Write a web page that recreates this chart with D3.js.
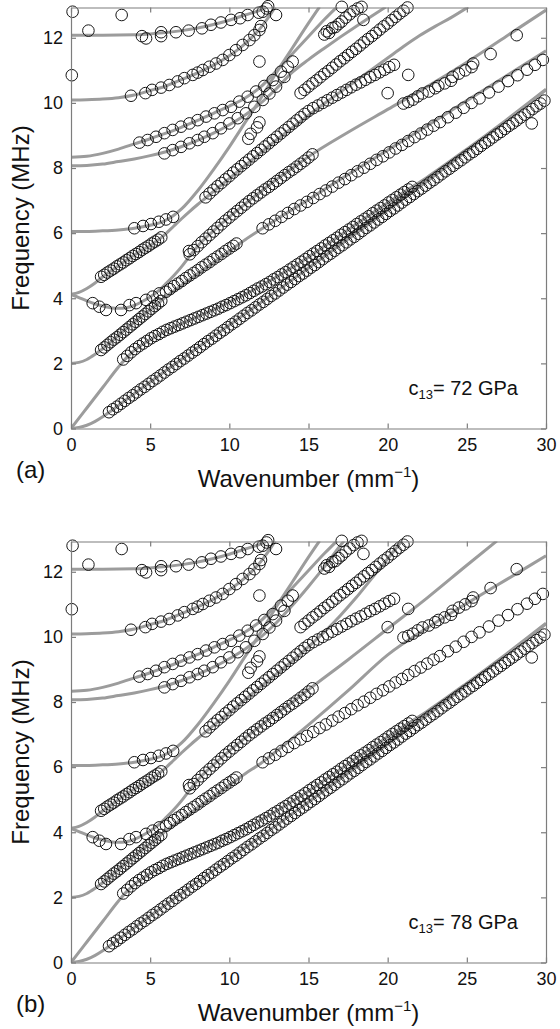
<!DOCTYPE html>
<html>
<head>
<meta charset="utf-8">
<script src="https://cdn.jsdelivr.net/npm/d3@7"></script>
<style>
  body { margin: 0; background: #fff; }
  text { font-family: "Liberation Sans", Arial, Helvetica, sans-serif; }
</style>
</head>
<body>
<svg id="chart" width="560" height="1029"></svg>
<script>
// axis ticks
const kTicks = [0, 5, 10, 15, 20, 25, 30];
const fTicks = [0, 2, 4, 6, 8, 10, 12];
const panelNames = ['(a)', '(b)'];
const c13Values = ['72', '78'];

// measured points (same in both panels) [wavenumber, frequency]
const rowA0 = [[2.4,0.5],[2.65,0.59],[2.9,0.67],[3.15,0.76],[3.4,0.85],[3.65,0.94],[3.9,1.02],[4.15,1.11],[4.4,1.2],[4.65,1.28],[4.9,1.37],[5.15,1.46],[5.4,1.54],[5.65,1.63],[5.9,1.72],[6.15,1.81],[6.4,1.89],[6.65,1.98],[6.9,2.07],[7.15,2.15],[7.4,2.24],[7.65,2.33],[7.9,2.41],[8.15,2.5],[8.4,2.59],[8.65,2.68],[8.9,2.76],[9.15,2.85],[9.4,2.94],[9.65,3.02],[9.9,3.11],[10.15,3.2],[10.4,3.28],[10.65,3.37],[10.9,3.46],[11.15,3.55],[11.4,3.63],[11.65,3.72],[11.9,3.81],[12.15,3.89],[12.4,3.98],[12.65,4.07],[12.9,4.15],[13.15,4.24],[13.4,4.33],[13.65,4.42],[13.9,4.5],[14.15,4.59],[14.4,4.68],[14.65,4.76],[14.9,4.85],[15.15,4.94],[15.4,5.02],[15.65,5.11],[15.9,5.2],[16.15,5.29],[16.4,5.37],[16.65,5.46],[16.9,5.55],[17.15,5.63],[17.4,5.72],[17.65,5.81],[17.9,5.89],[18.15,5.98],[18.4,6.07],[18.65,6.16],[18.9,6.24],[19.15,6.33],[19.4,6.42],[19.65,6.5],[19.9,6.59],[20.15,6.68],[20.4,6.76],[20.65,6.85],[20.9,6.94],[21.15,7.03],[21.4,7.11],[21.65,7.2],[21.9,7.29],[22.15,7.37],[22.4,7.46],[22.65,7.55],[22.9,7.63],[23.15,7.72],[23.4,7.81],[23.65,7.9],[23.9,7.98],[24.15,8.07],[24.4,8.16],[24.65,8.24],[24.9,8.33],[25.15,8.42],[25.4,8.5],[25.65,8.59],[25.9,8.68],[26.15,8.77],[26.4,8.85],[26.65,8.94],[26.9,9.03],[27.15,9.11],[27.4,9.2],[27.65,9.29],[27.9,9.37],[28.15,9.46],[28.4,9.55],[28.65,9.64],[28.9,9.72],[29.15,9.81],[29.4,9.9],[29.65,9.98],[29.9,10.07]];
const rowS0 = [[3.3,2.12],[3.55,2.23],[3.8,2.34],[4.05,2.44],[4.3,2.53],[4.55,2.61],[4.8,2.69],[5.05,2.77],[5.3,2.84],[5.55,2.9],[5.8,2.97],[6.05,3.03],[6.3,3.08],[6.55,3.13],[6.8,3.18],[7.05,3.23],[7.3,3.28],[7.55,3.33],[7.8,3.38],[8.05,3.43],[8.3,3.48],[8.55,3.53],[8.8,3.58],[9.05,3.63],[9.3,3.68],[9.55,3.74],[9.8,3.79],[10.05,3.85],[10.3,3.91],[10.55,3.97],[10.8,4.03],[11.05,4.09],[11.3,4.16],[11.55,4.23],[11.8,4.3],[12.05,4.36],[12.3,4.43],[12.55,4.5],[12.8,4.58],[13.05,4.65],[13.3,4.73],[13.55,4.8],[13.8,4.88],[14.05,4.96],[14.3,5.04],[14.55,5.12],[14.8,5.2],[15.05,5.29],[15.3,5.37],[15.55,5.45],[15.8,5.53],[16.05,5.62],[16.3,5.7],[16.55,5.78],[16.8,5.86],[17.05,5.95],[17.3,6.03],[17.55,6.11],[17.8,6.19],[18.05,6.28],[18.3,6.36],[18.55,6.44],[18.8,6.52],[19.05,6.61],[19.3,6.69],[19.55,6.77],[19.8,6.85],[20.05,6.94],[20.3,7.02],[20.55,7.1],[20.8,7.18],[21.05,7.26],[21.3,7.34],[21.55,7.42]];
const rowM2 = [[1.9,2.41],[2.1,2.49],[2.3,2.57],[2.5,2.65],[2.7,2.73],[2.9,2.8],[3.1,2.88],[3.3,2.96],[3.5,3.04],[3.7,3.12],[3.9,3.2],[4.1,3.28],[4.3,3.36],[4.5,3.44],[4.7,3.52],[4.9,3.6],[5.1,3.68],[5.3,3.76],[5.5,3.84],[5.7,3.92],[6.0,4.2],[6.25,4.28],[6.5,4.37],[6.75,4.45],[7.0,4.53],[7.25,4.62],[7.5,4.7],[7.75,4.78],[8.0,4.86],[8.25,4.95],[8.5,5.03],[8.75,5.11],[9.0,5.2],[9.25,5.28],[9.5,5.36],[9.75,5.45],[10.0,5.53],[10.25,5.61],[10.45,5.68],[12.1,6.15],[12.5,6.27],[12.9,6.38],[13.3,6.5],[13.7,6.62],[14.1,6.74],[14.5,6.85],[14.9,6.96],[15.3,7.08],[15.7,7.2],[16.1,7.31],[16.5,7.43],[16.9,7.55],[17.3,7.66],[17.7,7.78],[18.1,7.9],[18.5,8.01],[18.9,8.13],[19.3,8.25],[19.7,8.36],[20.1,8.48],[20.5,8.6],[20.9,8.71],[21.3,8.83],[21.7,8.95],[22.1,9.06],[22.5,9.18],[22.9,9.3],[23.3,9.41],[23.8,9.56],[24.3,9.7],[24.8,9.85],[25.3,10.0],[25.8,10.14],[26.4,10.32],[27.0,10.5],[27.6,10.67],[28.2,10.85],[28.8,11.02],[29.3,11.17],[29.8,11.32]];
const rowDip = [[1.37,3.85],[1.79,3.74],[2.21,3.64],[3.16,3.64],[3.69,3.79],[4.11,3.85],[4.74,3.95],[5.16,4.05],[5.58,4.15]];
const rowUp4 = [[1.9,4.66],[2.1,4.72],[2.3,4.79],[2.5,4.85],[2.7,4.91],[2.9,4.98],[3.1,5.04],[3.3,5.1],[3.5,5.17],[3.7,5.23],[3.9,5.3],[4.1,5.36],[4.3,5.42],[4.5,5.49],[4.7,5.55],[4.9,5.61],[5.1,5.68],[5.3,5.74],[5.5,5.8],[5.7,5.87]];
const row6 = [[4.0,6.15],[4.55,6.22],[5.05,6.28],[5.55,6.35],[6.0,6.42],[6.45,6.5]];
const rowR7 = [[7.45,5.45],[7.5,5.35],[7.75,5.48],[8.0,5.6],[8.25,5.72],[8.5,5.83],[8.75,5.94],[9.0,6.05],[9.25,6.16],[9.5,6.27],[9.75,6.38],[10.0,6.48],[10.25,6.58],[10.5,6.68],[10.75,6.78],[11.0,6.88],[11.25,6.98],[11.5,7.07],[11.75,7.16],[12.0,7.25],[12.25,7.34],[12.5,7.42],[12.75,7.51],[13.0,7.6],[13.25,7.69],[13.5,7.78],[13.75,7.87],[14.0,7.95],[14.25,8.04],[14.5,8.13],[14.75,8.22],[15.0,8.32],[15.25,8.42]];
const rowR8 = [[8.5,7.1],[8.75,7.22],[9.0,7.33],[9.25,7.44],[9.5,7.54],[9.75,7.65],[10.0,7.75],[10.25,7.86],[10.5,7.96],[10.75,8.06],[11.0,8.16],[11.25,8.26],[11.5,8.36],[11.75,8.46],[12.0,8.56],[12.25,8.66],[12.5,8.76],[12.75,8.86],[13.0,8.96],[13.25,9.06],[13.5,9.16],[13.75,9.26],[14.0,9.36],[14.25,9.46],[14.5,9.56],[14.75,9.66],[15.0,9.75],[15.3,9.84],[15.6,9.92],[15.9,10.0],[16.2,10.08],[16.5,10.16],[16.8,10.24],[17.1,10.32],[17.4,10.4],[17.7,10.48],[18.0,10.56],[18.3,10.63],[18.6,10.71],[18.9,10.79],[19.2,10.86],[19.5,10.94],[19.8,11.02],[20.1,11.1],[20.4,11.17]];
const rowR9 = [[14.5,10.3],[14.75,10.4],[15.0,10.5],[15.25,10.6],[15.5,10.69],[15.75,10.79],[16.0,10.89],[16.25,10.98],[16.5,11.08],[16.75,11.18],[17.0,11.28],[17.25,11.37],[17.5,11.47],[17.75,11.57],[18.0,11.66],[18.25,11.76],[18.5,11.86],[18.75,11.96],[19.0,12.05],[19.25,12.15],[19.5,12.25],[19.75,12.35],[20.0,12.44],[20.25,12.54],[20.5,12.64],[20.75,12.74],[21.0,12.83],[21.25,12.93]];
const rowTop = [[16.0,12.1],[16.15,12.2],[16.3,12.15],[16.5,12.3],[16.7,12.33],[16.9,12.42],[17.1,12.5],[17.35,12.62],[17.6,12.72],[17.85,12.82],[18.1,12.9],[18.35,12.95]];
const rowRight = [[21.0,9.98],[21.3,10.03],[21.6,10.1],[21.9,10.2],[22.2,10.29],[22.6,10.35],[23.0,10.45],[23.2,10.52],[23.6,10.6],[24.0,10.68],[24.1,10.8],[24.5,10.9],[24.9,11.0],[25.3,11.1],[25.4,11.21],[26.5,11.5],[28.15,12.08]];
const row84 = [[5.9,8.45],[6.42,8.55],[6.95,8.65],[7.48,8.76],[8.0,8.86],[8.42,8.96],[8.95,9.07],[9.47,9.22],[10.0,9.37],[10.53,9.53],[11.05,9.68],[11.58,9.88],[12.11,10.09],[12.53,10.29],[12.95,10.5],[13.48,10.8]];
const row88 = [[4.32,8.78],[4.84,8.86],[5.37,8.96],[5.9,9.07],[6.42,9.17],[6.95,9.27],[7.48,9.37],[8.0,9.47],[8.53,9.58],[9.06,9.68],[9.58,9.78],[10.11,9.88],[10.63,10.04],[11.16,10.19],[11.69,10.35],[12.21,10.52],[12.74,10.7],[13.26,10.96],[13.69,11.11],[14.0,11.27]];
const row10 = [[3.79,10.22],[4.7,10.3],[5.12,10.4],[5.69,10.47],[6.21,10.55],[6.74,10.66],[7.16,10.76],[7.69,10.86],[8.0,10.93],[8.32,11.01],[8.74,11.11],[9.16,11.21],[9.58,11.32],[10.0,11.47],[10.42,11.62],[10.84,11.78],[11.27,11.93],[11.58,12.08],[11.9,12.24],[12.0,12.36]];
const row12 = [[4.48,12.05],[4.74,11.98],[5.69,12.17],[5.69,12.05],[6.63,12.17],[7.43,12.22],[8.27,12.29],[8.84,12.4],[9.47,12.47],[10.11,12.55],[10.68,12.6],[11.16,12.7],[11.86,12.77],[12.11,12.8],[12.35,12.9],[12.45,12.97]];
const strays = [[0.1,12.8],[3.2,12.7],[1.1,12.22],[0.05,10.85],[11.9,11.27],[12.95,12.7],[17.1,12.95],[18.47,12.55],[21.3,10.86],[20.0,10.3],[29.1,9.37],[11.2,8.9],[11.35,9.05],[11.75,9.25],[11.9,9.4]];

// computed dispersion curves, panel (a): c13 = 72 GPa
const modeA0_a = [[0,0],[0.5,0.03],[1,0.1],[1.5,0.21],[2,0.36],[2.5,0.53],[3,0.71],[4,1.07],[5,1.43],[7.5,2.31],[10,3.18],[12.5,4.05],[15,4.93],[17.5,5.82],[20,6.7],[22.5,7.6],[25,8.52],[27.5,9.45],[30,10.4]];
const modeS0_a = [[0,0],[1,0.63],[2,1.26],[3,1.89],[3.5,2.17],[4,2.4],[4.5,2.58],[5,2.73],[6,3.0],[7,3.22],[8,3.44],[9,3.65],[10,3.88],[11,4.12],[12,4.38],[13,4.66],[14,4.96],[15,5.27],[16,5.6],[17,5.93],[18,6.27],[19,6.6],[20,6.93],[21,7.25],[22.5,7.72],[25,8.58],[27.5,9.48],[30,10.42]];
const mode2_a = [[0,2.0],[0.5,2.03],[1,2.12],[1.5,2.27],[2,2.45],[3,2.86],[4,3.27],[5,3.65],[5.5,3.84],[6,4.05],[7,4.4],[8,4.75],[9,5.1],[10,5.45],[11,5.8],[12,6.12],[13,6.43],[15,7.03],[17.5,7.8],[20,8.55],[22.5,9.3],[25,10.07],[27.5,10.83],[30,11.6]];
const mode4d_a = [[0,4.12],[0.5,4.02],[1,3.92],[1.5,3.83],[2,3.76],[2.5,3.71],[3,3.69],[3.5,3.71],[4,3.78],[4.5,3.9],[5,4.04],[5.5,4.22],[6,4.45],[6.5,4.7],[7,4.98],[7.5,5.3],[8,5.6],[9,6.07],[10,6.5],[11,6.9],[12,7.28],[13,7.66],[14,8.0],[15,8.35],[17.5,9.1],[20,9.8],[22.5,10.5],[25,11.25],[27.5,12.05],[30,12.85]];
const mode4u_a = [[0,4.12],[0.5,4.18],[1,4.3],[1.5,4.46],[2,4.66],[3,5.0],[4,5.33],[5,5.63],[5.8,5.9],[6.5,6.22],[7,6.45],[7.5,6.67],[8,6.88],[8.5,7.08],[9,7.28],[10,7.68],[11,8.08],[12,8.48],[13,8.87],[14,9.25],[15,9.62],[16,9.98],[17,10.33],[18,10.68],[19,11.03],[20,11.38],[21,11.73],[22,12.06],[23,12.35],[24,12.62],[25.1,12.95]];
const mode6_a = [[0,6.05],[1,6.05],[2,6.07],[3,6.1],[4,6.15],[5,6.24],[5.8,6.35],[6.5,6.55],[7,6.75],[8,7.3],[9,7.95],[10,8.65],[11,9.4],[12,10.15],[13,10.95],[14,11.7],[15,12.45],[15.7,12.95]];
const mode805_a = [[0,8.07],[1,8.08],[2,8.12],[3,8.2],[4,8.28],[5,8.38],[6,8.5],[7,8.66],[8,8.85],[9,9.07],[10,9.33],[11,9.63],[12,10.0],[13,10.45],[14,10.95],[15,11.33],[16,11.68],[17,12.02],[18,12.35],[19,12.67],[19.9,12.95]];
const mode83_a = [[0,8.33],[1,8.36],[2,8.45],[3,8.58],[4,8.74],[5,8.9],[6,9.07],[7,9.26],[8,9.46],[9,9.68],[10,9.9],[11,10.15],[12,10.5],[13,11.0],[14,11.52],[15,12.04],[16,12.56],[16.8,12.95]];
const mode10_a = [[0,10.09],[1,10.1],[2,10.12],[3,10.16],[4,10.24],[5,10.38],[6,10.52],[7,10.72],[8,10.92],[9,11.16],[10,11.45],[10.5,11.62],[11,11.82],[11.5,12.05],[12,12.32],[12.5,12.65],[12.9,12.95]];
const mode12_a = [[0,12.08],[2,12.08],[4,12.09],[5,12.12],[6,12.16],[7,12.22],[8,12.3],[9,12.41],[10,12.54],[11,12.7],[12,12.86],[12.4,12.95]];

// panel (b): c13 = 78 GPa (modes whose upper branches move)
const mode2_b = [[0,2.0],[0.5,2.03],[1,2.12],[1.5,2.27],[2,2.45],[3,2.86],[4,3.27],[5,3.65],[5.5,3.84],[6,4.05],[7,4.4],[8,4.75],[9,5.1],[10,5.45],[11,5.8],[12,6.12],[13,6.5],[15,7.3],[17.5,8.35],[20,9.45],[22.5,10.28],[25,11.03],[27.5,11.76],[30,12.49]];
const mode4d_b = [[0,4.12],[0.5,4.02],[1,3.92],[1.5,3.83],[2,3.76],[2.5,3.71],[3,3.69],[3.5,3.71],[4,3.78],[4.5,3.9],[5,4.04],[5.5,4.22],[6,4.45],[6.5,4.7],[7,4.98],[7.5,5.3],[8,5.6],[9,6.07],[10,6.5],[11,6.9],[12,7.28],[13,7.66],[14,8.0],[15,8.38],[17.5,9.3],[20,10.25],[22.5,11.2],[25,12.2],[26.9,12.95]];
const mode4u_b = [[0,4.12],[0.5,4.18],[1,4.3],[1.5,4.46],[2,4.66],[3,5.0],[4,5.33],[5,5.63],[5.8,5.9],[6.5,6.22],[7,6.45],[7.5,6.67],[8,6.88],[8.5,7.08],[9,7.28],[10,7.68],[11,8.08],[12,8.48],[13,8.87],[14,9.27],[15,9.7],[16,10.15],[17,10.65],[18,11.2],[19,11.8],[20,12.4],[20.9,12.95]];
const mode805_b = [[0,8.07],[1,8.08],[2,8.12],[3,8.2],[4,8.28],[5,8.38],[6,8.5],[7,8.66],[8,8.85],[9,9.07],[10,9.33],[11,9.63],[12,10.0],[13,10.45],[14,10.98],[15,11.55],[16,12.15],[17,12.8],[17.25,12.95]];

const measured = [rowA0, rowS0, rowM2, rowDip, rowUp4, row6, rowR7, rowR8, rowR9, rowTop, rowRight, row84, row88, row10, row12, strays];
const curvesA = [modeA0_a, modeS0_a, mode2_a, mode4d_a, mode4u_a, mode6_a, mode805_a, mode83_a, mode10_a, mode12_a];
const curvesB = [modeA0_a, modeS0_a, mode2_b, mode4d_b, mode4u_b, mode6_a, mode805_b, mode83_a, mode10_a, mode12_a];

const svg = d3.select('#chart');
const left = 71, right = 546, plotH = 421;
const tops = [7.5, 541.5];
const axisColor = '#7d7d7d';

const x = d3.scaleLinear().domain([0, 30]).range([left, right]);

[curvesA, curvesB].forEach((curves, i) => {
    const top = tops[i], bottom = top + plotH;
    const y = d3.scaleLinear().domain([0, 12.93]).range([bottom, top]);
    const g = svg.append('g');

    g.append('clipPath').attr('id', 'clip' + i)
        .append('rect').attr('x', left).attr('y', top)
        .attr('width', right - left).attr('height', plotH);

    const line = d3.line()
        .x(d => x(d[0]))
        .y(d => y(d[1]))
        .curve(d3.curveMonotoneX);

    g.append('g').attr('clip-path', `url(#clip${i})`)
        .selectAll('path')
        .data(curves)
        .enter().append('path')
        .attr('d', line)
        .attr('fill', 'none')
        .attr('stroke', '#9c9c9c')
        .attr('stroke-width', 3)
        .attr('stroke-linejoin', 'round');

    g.append('g').selectAll('circle')
        .data(measured.flat())
        .enter().append('circle')
        .attr('cx', d => x(d[0]))
        .attr('cy', d => y(d[1]))
        .attr('r', 5.8)
        .attr('fill', 'none')
        .attr('stroke', '#161616')
        .attr('stroke-width', 1);

    // axes box with inward ticks
    const styleAxis = sel => {
        sel.selectAll('path, line').attr('stroke', axisColor).attr('stroke-width', 1.2);
        sel.selectAll('text').attr('font-size', 18).attr('fill', '#111')
            .attr('font-family', '"Liberation Sans", Arial, sans-serif');
    };
    g.append('g').attr('transform', `translate(0,${bottom})`)
        .call(d3.axisBottom(x).tickValues(kTicks).tickSizeInner(-5).tickSizeOuter(0).tickPadding(10))
        .call(styleAxis);
    g.append('g').attr('transform', `translate(0,${top})`)
        .call(d3.axisTop(x).tickValues(kTicks).tickSizeInner(-5).tickSizeOuter(0).tickFormat(''))
        .call(styleAxis);
    g.append('g').attr('transform', `translate(${left},0)`)
        .call(d3.axisLeft(y).tickValues(fTicks).tickSizeInner(-5).tickSizeOuter(0).tickPadding(8))
        .call(styleAxis);
    g.append('g').attr('transform', `translate(${right},0)`)
        .call(d3.axisRight(y).tickValues(fTicks).tickSizeInner(-5).tickSizeOuter(0).tickFormat(''))
        .call(styleAxis);

    g.append('text')
        .attr('transform', `translate(29,${(top + bottom) / 2}) rotate(-90)`)
        .attr('text-anchor', 'middle')
        .attr('font-size', 24)
        .attr('fill', '#111')
        .text('Frequency (MHz)');

    const xl = g.append('text')
        .attr('x', (left + right) / 2)
        .attr('y', bottom + 58)
        .attr('text-anchor', 'middle')
        .attr('font-size', 24)
        .attr('fill', '#111');
    xl.append('tspan').text('Wavenumber (mm');
    xl.append('tspan').attr('dy', -10).attr('font-size', 15).text('\u22121');
    xl.append('tspan').attr('dy', 10).text(')');

    g.append('text')
        .attr('x', 16)
        .attr('y', bottom + 49)
        .attr('font-size', 24)
        .attr('fill', '#111')
        .text(panelNames[i]);

    const lab = g.append('text')
        .attr('x', 518)
        .attr('y', top + 387.5)
        .attr('text-anchor', 'end')
        .attr('font-size', 20)
        .attr('fill', '#111');
    lab.append('tspan').text('c');
    lab.append('tspan').attr('font-size', 13).attr('dy', 4).text('13');
    lab.append('tspan').attr('dy', -4).text('= ' + c13Values[i] + ' GPa');
});
</script>
</body>
</html>
